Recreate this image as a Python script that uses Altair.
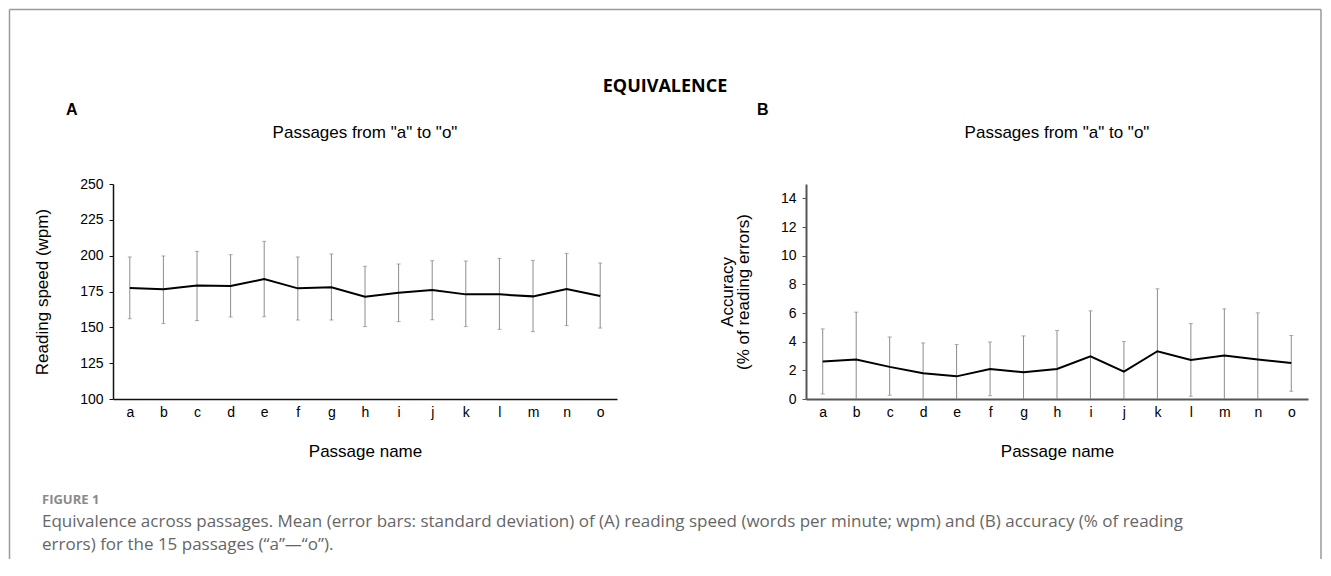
import altair as alt
import pandas as pd

# ---------------- data ----------------
names = list("abcdefghijklmno")

speed_mean = [177.4, 176.5, 179.1, 178.8, 183.7, 177.2, 177.9, 171.4, 174.2, 176.0, 173.0, 173.0, 171.6, 176.7, 171.9]
speed_upper = [199.1, 199.8, 203.0, 200.7, 210.0, 199.1, 201.2, 192.6, 194.2, 196.5, 196.3, 198.1, 196.7, 201.6, 194.9]
speed_lower = [156.0, 152.6, 154.7, 157.2, 157.4, 155.1, 155.1, 150.5, 154.0, 155.3, 150.5, 148.6, 147.0, 151.2, 149.5]

acc_mean = [2.61, 2.75, 2.24, 1.79, 1.58, 2.10, 1.86, 2.10, 2.98, 1.91, 3.33, 2.73, 3.03, 2.75, 2.52]
acc_upper = [4.89, 6.06, 4.33, 3.91, 3.80, 3.98, 4.40, 4.78, 6.15, 4.01, 7.69, 5.26, 6.29, 6.01, 4.43]
acc_lower = [0.35, 0.0, 0.26, 0.0, 0.0, 0.23, 0.0, 0.0, 0.0, 0.0, 0.0, 0.19, 0.0, 0.0, 0.54]

speed_ticks = [100, 125, 150, 175, 200, 225, 250]
acc_ticks = [0, 2, 4, 6, 8, 10, 12, 14]

figure_title = "EQUIVALENCE"
panel_letters = ["A", "B"]
panel_title = 'Passages from "a" to "o"'
x_title = "Passage name"
y_title_left = "Reading speed (wpm)"
y_title_right = ["Accuracy", "(% of reading errors)"]
caption_label = "FIGURE 1"
caption_line1 = ("Equivalence across passages. Mean (error bars: standard deviation) of (A) reading speed "
                 "(words per minute; wpm) and (B) accuracy (% of reading")
caption_line2 = "errors) for the 15 passages (\u201ca\u201d\u2014\u201co\u201d)."

# ---------------- layout constants ----------------
W_L, W_R, H = 504, 502, 215
GAP = 189
AXF = "Liberation Sans"
CAPF = "Open Sans"
GRAY = "#8c8c8c"

left_df = pd.DataFrame({"name": names, "mean": speed_mean, "upper": speed_upper, "lower": speed_lower})
right_df = pd.DataFrame({"name": names, "mean": acc_mean, "upper": acc_upper, "lower": acc_lower})


def text(t, x, y, size, weight="normal", color="black", font=AXF, align="left"):
    return alt.Chart(pd.DataFrame({"t": [t]})).mark_text(
        align=align, baseline="alphabetic", fontSize=size, fontWeight=weight,
        font=font, color=color
    ).encode(text="t:N", x=alt.value(x), y=alt.value(y))


def rule(x, y, x2=None, y2=None, color="#9a9a9a", width=1.5):
    enc = dict(x=alt.value(x), y=alt.value(y))
    if x2 is not None:
        enc["x2"] = alt.value(x2)
    if y2 is not None:
        enc["y2"] = alt.value(y2)
    return alt.Chart(pd.DataFrame({"a": [0]})).mark_rule(color=color, strokeWidth=width).encode(**enc)


def panel(df, width, domain, ticks, ytitle, axis_color, axis_width, extra):
    xax = alt.Axis(title=x_title, labelAngle=0, tickSize=0, labelPadding=6,
                   domainColor=axis_color, domainWidth=axis_width,
                   labelFont=AXF, labelFontSize=14, labelColor="black",
                   titleFont=AXF, titleFontSize=17, titleFontWeight="normal",
                   titleColor="black", titlePadding=24)
    yax = alt.Axis(title=ytitle, values=ticks, grid=False, tickSize=4,
                   tickColor=axis_color, domainColor=axis_color, domainWidth=axis_width,
                   tickWidth=1, labelPadding=6,
                   labelFont=AXF, labelFontSize=14, labelColor="black",
                   titleFont=AXF, titleFontSize=17, titleFontWeight="normal",
                   titleColor="black", titlePadding=28, titleLineHeight=16)
    x = alt.X("name:N", sort=names, scale=alt.Scale(type="point", padding=0.5), axis=xax)
    ysc = alt.Scale(domain=domain, nice=False, zero=False)

    base = alt.Chart(df)
    bars = base.mark_rule(color=GRAY, strokeWidth=1).encode(
        x=x, y=alt.Y("lower:Q", scale=ysc, axis=yax), y2="upper:Q")
    cap_hi = base.mark_tick(color=GRAY, size=4, thickness=1).encode(
        x=x, y=alt.Y("upper:Q", scale=ysc, axis=yax))
    cap_lo = base.transform_filter("datum.lower > 0").mark_tick(color=GRAY, size=4, thickness=1).encode(
        x=x, y=alt.Y("lower:Q", scale=ysc, axis=yax))
    line = base.mark_line(color="black", strokeWidth=2).encode(
        x=x, y=alt.Y("mean:Q", scale=ysc, axis=yax))
    title = text(panel_title, width / 2, -46, 17, align="center")
    return alt.layer(bars, cap_hi, cap_lo, line, title, *extra).properties(width=width, height=H)


# decorations placed relative to the left panel's plot origin
left_extra = [
    rule(-103.5, -174.5, y2=375),                 # left frame
    rule(-103.5, -174.5, x2=W_L + GAP + W_R + 13),  # top frame
    rule(W_L + GAP + W_R + 13, -174.5, y2=375),    # right frame
    text(figure_title, 552, -92, 18, weight="bold", font=CAPF, align="center"),
    text(panel_letters[0], -47, -69, 16, weight="bold"),
    text(panel_letters[1], 644, -69, 16, weight="bold"),
    text(caption_label, -71, 320, 13, weight="bold", color="#8a8a8a", font=CAPF),
    text(caption_line1, -71, 343, 17, color="#666666", font=CAPF),
    text(caption_line2, -71, 366, 17, color="#666666", font=CAPF),
]

left = panel(left_df, W_L, [100, 250], speed_ticks, y_title_left, "#111111", 1.5, left_extra)
right = panel(right_df, W_R, [0, 15], acc_ticks, y_title_right, "#555555", 2, [])

chart = alt.hconcat(left, right, spacing=GAP, bounds="flush").properties(
    padding=0
).configure_view(stroke=None)

chart.save("out.html", embed_options={"renderer": "svg", "actions": False})
